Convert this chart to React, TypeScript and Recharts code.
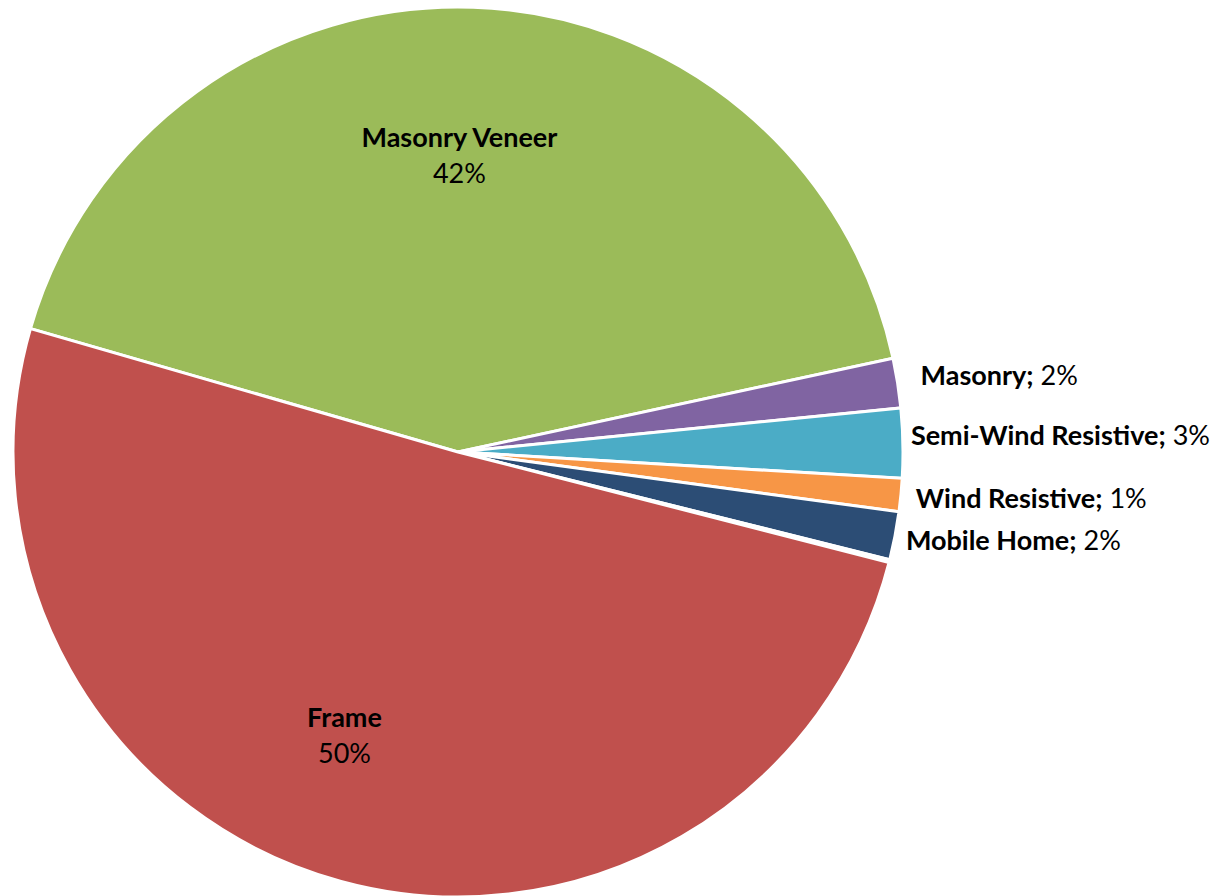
import React from 'react';
import { PieChart, Pie, Cell } from 'recharts';

const categories = ['Masonry Veneer', 'Masonry', 'Semi-Wind Resistive', 'Wind Resistive', 'Mobile Home', 'Other', 'Frame'];
const shares = [42.15, 1.8, 2.52, 1.2, 1.75, 0.1, 50.48];
const colors = ['#9BBB59', '#8064A2', '#4BACC6', '#F79646', '#2C4D75', '#4F81BD', '#C0504D'];
const insideLabels = ['Masonry Veneer', 'Frame'];
const hiddenLabels = ['Other'];

const data = categories.map((name, i) => ({ name, value: shares[i] }));

const FONT = 'Lato, "Open Sans", sans-serif';
const RAD = Math.PI / 180;
const START = 163.9;

const nudge: Record<string, { dx: number; dy: number }> = {
  'Masonry Veneer': { dx: -9, dy: 7 },
  Frame: { dx: -34, dy: -7 },
  Masonry: { dx: 15, dy: -8 },
  'Semi-Wind Resistive': { dx: 0, dy: -9 },
  'Wind Resistive': { dx: 7, dy: 1 },
  'Mobile Home': { dx: 3, dy: 2 },
};

const renderLabel = (props: any) => {
  const { cx, cy, midAngle, outerRadius, percent, name } = props;
  if (hiddenLabels.includes(name)) return null;
  const pct = `${Math.round(percent * 100)}%`;
  const n = nudge[name] || { dx: 0, dy: 0 };
  if (insideLabels.includes(name)) {
    const r = outerRadius * 0.68;
    const x = cx + r * Math.cos(-midAngle * RAD) + n.dx;
    const y = cy + r * Math.sin(-midAngle * RAD) + n.dy;
    return (
      <text x={x} y={y} textAnchor="middle" fontFamily={FONT} fontSize={27} fill="#000">
        <tspan x={x} dy={-10} fontWeight="bold">{name}</tspan>
        <tspan x={x} dy={36}>{pct}</tspan>
      </text>
    );
  }
  const r = outerRadius + 8;
  const x = cx + r * Math.cos(-midAngle * RAD) + n.dx;
  const y = cy + r * Math.sin(-midAngle * RAD) + n.dy;
  return (
    <text x={x} y={y} dominantBaseline="central" textAnchor="start" fontFamily={FONT} fontSize={27} fill="#000">
      <tspan fontWeight="bold">{name};</tspan>
      <tspan> {pct}</tspan>
    </text>
  );
};

export default function App() {
  return (
    <div style={{ position: 'absolute', left: 0, top: 0, width: 1222, height: 896, background: '#fff' }}>
      <PieChart width={1222} height={896} margin={{ top: 0, right: 0, bottom: 0, left: 0 }}>
        <Pie
          data={data}
          dataKey="value"
          nameKey="name"
          cx={458}
          cy={452}
          outerRadius={445}
          startAngle={START}
          endAngle={START - 360}
          stroke="#fff"
          strokeWidth={3}
          label={renderLabel}
          labelLine={false}
          isAnimationActive={false}
        >
          {data.map((d, i) => (
            <Cell key={d.name} fill={colors[i]} />
          ))}
        </Pie>
      </PieChart>
    </div>
  );
}
